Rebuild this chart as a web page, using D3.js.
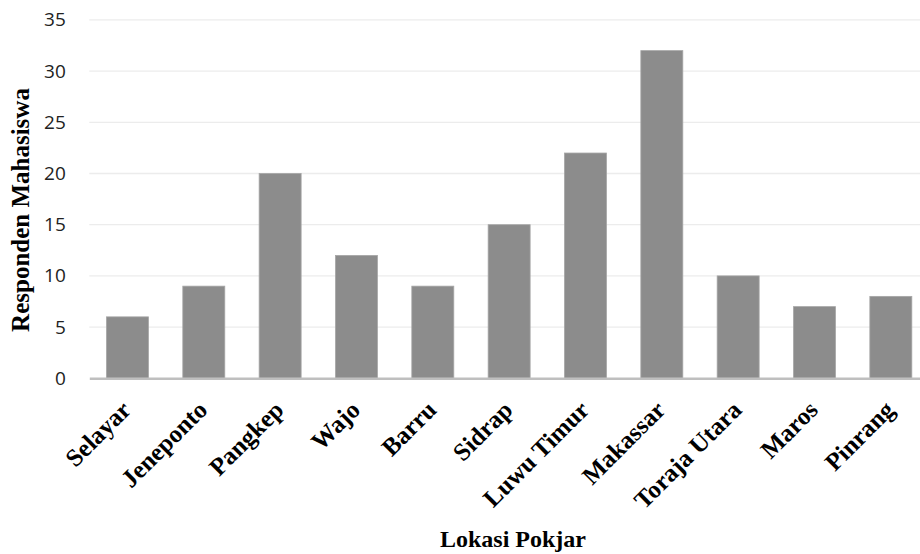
<!DOCTYPE html>
<html><head><meta charset="utf-8">
<script src="https://cdn.jsdelivr.net/npm/d3@7"></script>
<style>body{margin:0;background:#fff;overflow:hidden}</style>
</head><body>
<svg id="c" width="920" height="554"></svg>
<script>
const categories = ["Selayar","Jeneponto","Pangkep","Wajo","Barru","Sidrap","Luwu Timur","Makassar","Toraja Utara","Maros","Pinrang"];
const values = [6,9,20,12,9,15,22,32,10,7,8];
const yTicks = [0,5,10,15,20,25,30,35];

const svg = d3.select("#c");
const L = 89.3, R = 929;
const x = d3.scaleBand().domain(categories).range([L, R]).paddingInner(0.45).paddingOuter(0.225);
const y = d3.scaleLinear().domain([0,35]).range([378.3, 19.9]);
const serif = "'Liberation Serif', 'Times New Roman', serif";

// gridlines
svg.append("g").selectAll("line").data(yTicks.filter(d=>d>0)).join("line")
  .attr("x1", L).attr("x2", R)
  .attr("y1", d=>y(d)).attr("y2", d=>y(d))
  .attr("stroke", "#ececec").attr("stroke-width", 1.3);

// y tick labels
const ya = d3.axisLeft(y).tickValues(yTicks).tickSize(0).tickPadding(23.5);
svg.append("g").attr("transform", `translate(${L},0)`).call(ya)
  .call(g=>g.select(".domain").remove())
  .selectAll("text").attr("font-family","'Open Sans', 'Liberation Sans', sans-serif")
  .attr("font-size", 19).attr("fill","#222");

// bars
svg.append("g").selectAll("rect").data(values).join("rect")
  .attr("x", (d,i)=>x(categories[i]))
  .attr("width", x.bandwidth())
  .attr("y", d=>y(d))
  .attr("height", d=>y(0)-y(d))
  .attr("fill", "#8c8c8c")
  .attr("stroke", "#a6a6a6").attr("stroke-width", 0.8);

// x axis
const xa = d3.axisBottom(x).tickSize(0).tickPadding(0);
const gx = svg.append("g").attr("transform", `translate(0,${y(0)})`).call(xa);
gx.select(".domain").attr("stroke","#bfbfbf").attr("stroke-width",2.5);
gx.selectAll("text")
  .attr("font-family", serif)
  .attr("font-weight","bold").attr("font-size", 25).attr("fill","#000")
  .attr("text-anchor","end")
  .attr("y", 0).attr("dy", 0)
  .attr("transform","translate(5,33) rotate(-45)");

// axis titles
svg.append("text").attr("x", 513).attr("y", 547).attr("text-anchor","middle")
  .attr("font-family", serif)
  .attr("font-weight","bold").attr("font-size", 24).text("Lokasi Pokjar");
svg.append("text").attr("transform","translate(29,210) rotate(-90)").attr("text-anchor","middle")
  .attr("font-family", serif)
  .attr("font-weight","bold").attr("font-size", 25).text("Responden Mahasiswa");
</script>
</body></html>
